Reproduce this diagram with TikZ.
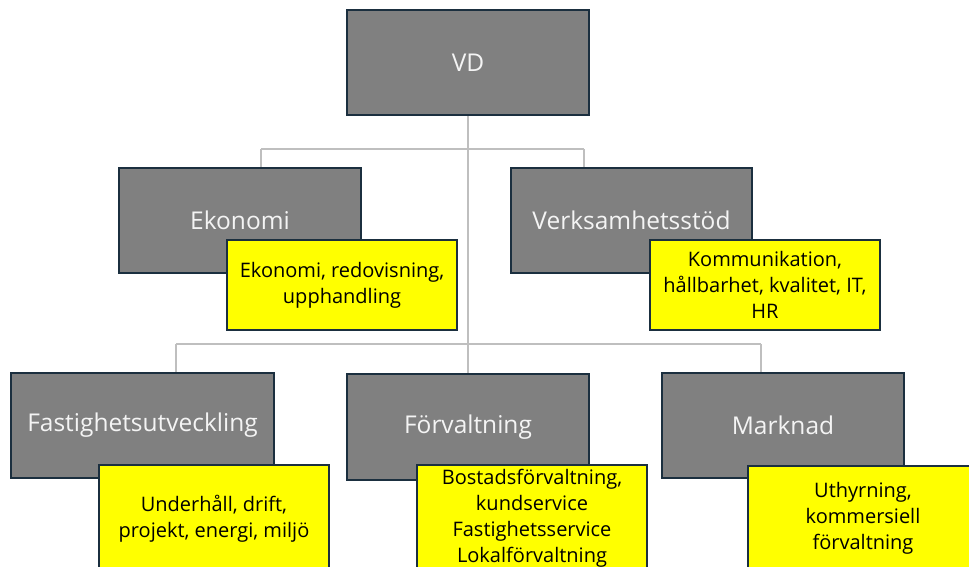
\documentclass[tikz,border=0pt]{standalone}
\usepackage{fontspec}
\setmainfont{Open Sans}
\pgfdeclarelayer{background}
\pgfsetlayers{background,main}
\definecolor{boxgray}{HTML}{808080}
\definecolor{edge}{HTML}{1B2F3F}
\definecolor{linegray}{HTML}{BFBFBF}
\definecolor{notey}{HTML}{FFFF00}
\definecolor{txtw}{HTML}{F4F4F4}
\begin{document}
\begin{tikzpicture}[x=1pt,y=-1pt,
  unit/.style={draw=edge,line width=1.4pt,fill=boxgray,text=txtw,font=\fontsize{24.5}{28}\selectfont,inner sep=0pt},
  note/.style={draw=edge,line width=1.4pt,fill=notey,text=black,align=center,font=\fontsize{20}{26}\selectfont,inner sep=0pt},
  conn/.style={draw=linegray,line width=1.5pt}]
\useasboundingbox (0,0) rectangle (969,567);
\clip (0,0) rectangle (969,567);
% units
\node[unit,minimum width=242pt,minimum height=105pt] (vd) at (468,62.5) {VD};
\node[unit,minimum width=242pt,minimum height=105pt] (eko) at (240,220.5) {Ekonomi};
\node[unit,minimum width=241pt,minimum height=105pt] (vs) at (631.5,220.5) {Verksamhetsstöd};
\node[unit,minimum width=263pt,minimum height=105pt] (fu) at (142.5,425.5) {Fastighetsutveckling};
\node[unit,minimum width=242pt,minimum height=106pt] (fv) at (468,427) {Förvaltning};
\node[unit,minimum width=242pt,minimum height=105pt] (mk) at (783,425.5) {Marknad};
% notes
\node[note,minimum width=230pt,minimum height=90pt] (n1) at (342,285) {Ekonomi, redovisning,\\upphandling};
\node[note,minimum width=230pt,minimum height=90pt] (n2) at (765,285) {Kommunikation,\\hållbarhet, kvalitet, IT,\\HR};
\node[note,minimum width=230pt,minimum height=108pt] (n3) at (214,519) {Underhåll, drift,\\projekt, energi, miljö};
\node[note,minimum width=230pt,minimum height=106pt] (n4) at (532,518) {Bostadsförvaltning,\\kundservice\\Fastighetsservice\\Lokalförvaltning};
\node[note,minimum width=230pt,minimum height=104pt] (n5) at (863,518) {Uthyrning,\\kommersiell\\förvaltning};
% connectors
\coordinate (j1) at (468,149);
\coordinate (j2) at (468,344);
\coordinate (e1) at (261,149);
\coordinate (v1) at (584,149);
\coordinate (f2) at (176,344);
\coordinate (m2) at (761,344);
\begin{pgfonlayer}{background}
\draw[conn] (vd.south) -- (j1) -- (j2) -- (fv.north);
\draw[conn] (e1) -- (v1);
\draw[conn] (e1) -- (e1 |- eko.north);
\draw[conn] (v1) -- (v1 |- vs.north);
\draw[conn] (f2) -- (m2);
\draw[conn] (f2) -- (f2 |- fu.north);
\draw[conn] (m2) -- (m2 |- mk.north);
\end{pgfonlayer}
\end{tikzpicture}
\end{document}
